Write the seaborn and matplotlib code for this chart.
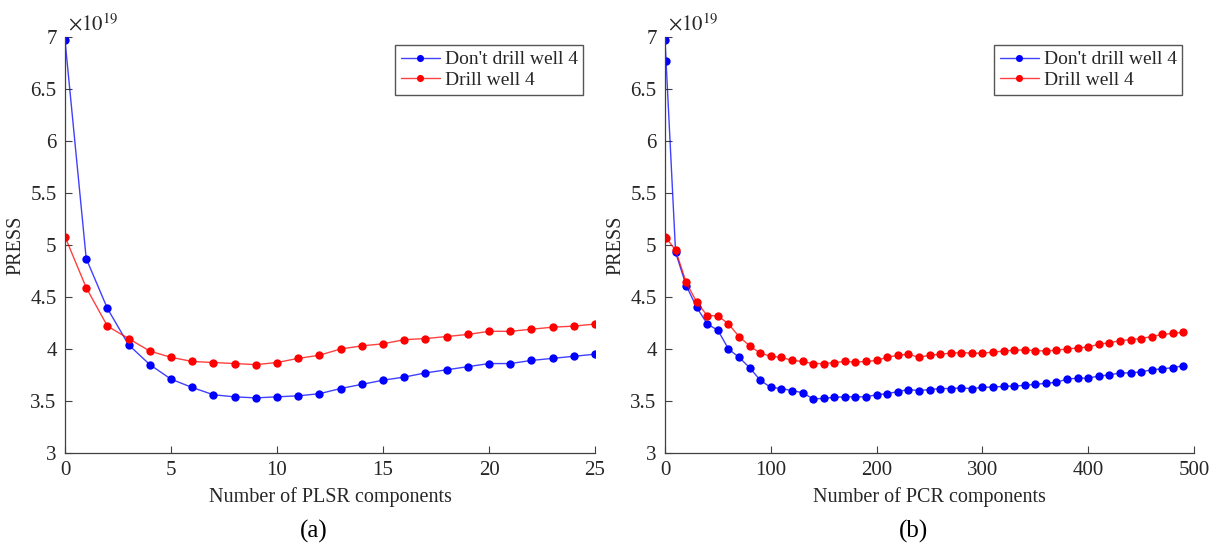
import matplotlib
matplotlib.use("Agg")
import matplotlib.pyplot as plt
from matplotlib.ticker import FuncFormatter
import matplotlib.colors as mcolors
import numpy as np
import pandas as pd
import seaborn as sns

# PRESS values are given in units of 1e19
SERIES = ["Don't drill well 4", "Drill well 4"]

plsr_components = list(range(26))
plsr_no_drill = [6.97, 4.87, 4.39, 4.04, 3.85, 3.71, 3.63, 3.56, 3.54, 3.53,
                 3.54, 3.55, 3.57, 3.62, 3.66, 3.70, 3.73, 3.77, 3.80, 3.83,
                 3.86, 3.86, 3.89, 3.91, 3.93, 3.95]
plsr_drill = [5.08, 4.59, 4.22, 4.10, 3.98, 3.92, 3.88, 3.87, 3.86, 3.85,
              3.87, 3.91, 3.94, 4.00, 4.03, 4.05, 4.09, 4.10, 4.12, 4.14,
              4.17, 4.17, 4.19, 4.21, 4.22, 4.24]

pcr_components = [0, 1] + list(range(10, 500, 10))
pcr_no_drill = [6.97, 6.77,
                4.93, 4.61, 4.40, 4.24, 4.18, 4.00, 3.92, 3.82, 3.70, 3.63,
                3.62, 3.60, 3.58, 3.52, 3.525, 3.536, 3.54, 3.54, 3.54, 3.56,
                3.57, 3.59, 3.61, 3.60, 3.61, 3.62, 3.62, 3.625, 3.62, 3.63,
                3.635, 3.64, 3.645, 3.65, 3.66, 3.67, 3.68, 3.71, 3.72, 3.72,
                3.74, 3.75, 3.77, 3.77, 3.78, 3.80, 3.81, 3.82, 3.84]
pcr_drill = [5.08, 5.07,
             4.95, 4.64, 4.45, 4.32, 4.32, 4.24, 4.12, 4.03, 3.96, 3.93,
             3.92, 3.89, 3.88, 3.86, 3.86, 3.87, 3.88, 3.875, 3.88, 3.89,
             3.92, 3.94, 3.95, 3.92, 3.94, 3.95, 3.96, 3.965, 3.96, 3.96,
             3.97, 3.98, 3.99, 3.99, 3.985, 3.98, 3.99, 4.00, 4.01, 4.02,
             4.045, 4.06, 4.08, 4.09, 4.10, 4.12, 4.14, 4.15, 4.16]

plsr_xticks = [0, 5, 10, 15, 20, 25]
pcr_xticks = [0, 100, 200, 300, 400, 500]
yticks = [3, 3.5, 4, 4.5, 5, 5.5, 6, 6.5, 7]

sns.set_theme(style="white")
plt.rcParams["font.family"] = ["Liberation Serif", "DejaVu Serif"]
plt.rcParams["mathtext.fontset"] = "stix"

TEXT = "#262626"
AXIS = "#404040"
palette = {SERIES[0]: "#0000ff", SERIES[1]: "#ff0000"}


def long_frame(x, a, b):
    return pd.DataFrame({
        "components": list(x) + list(x),
        "press": list(a) + list(b),
        "scenario": [SERIES[0]] * len(x) + [SERIES[1]] * len(x),
    })


fig = plt.figure(figsize=(12.24, 5.54), dpi=100)
ax_l = fig.add_axes([65 / 1224, 1 - 453 / 554, 530 / 1224, 416 / 554])
ax_r = fig.add_axes([665 / 1224, 1 - 453 / 554, 529 / 1224, 416 / 554])

panels = [
    (ax_l, long_frame(plsr_components, plsr_no_drill, plsr_drill),
     (0, 25), plsr_xticks, "Number of PLSR components", "(a)"),
    (ax_r, long_frame(pcr_components, pcr_no_drill, pcr_drill),
     (0, 500), pcr_xticks, "Number of PCR components", "(b)"),
]


def soften(line):
    # thin translucent connecting line, solid dots
    c = mcolors.to_rgb(line.get_color())
    line.set_color((*c, 0.75))
    line.set_markerfacecolor(c)
    line.set_markeredgecolor(c)


for ax, df, xlim, xticks, xlabel, tag in panels:
    sns.lineplot(data=df, x="components", y="press", hue="scenario",
                 palette=palette, estimator=None, sort=False,
                 marker="o", markersize=6, markeredgewidth=0,
                 linewidth=1.0, ax=ax)
    for line in ax.lines:
        soften(line)
    ax.set_xlim(*xlim)
    ax.set_ylim(3, 7)
    ax.set_xticks(xticks)
    ax.set_yticks(yticks)
    ax.yaxis.set_major_formatter(FuncFormatter(lambda v, p: f"{v:g}"))
    ax.xaxis.set_major_formatter(FuncFormatter(lambda v, p: f"{v:g}"))
    for side in ("top", "right"):
        ax.spines[side].set_visible(False)
    for side in ("left", "bottom"):
        ax.spines[side].set_color(AXIS)
        ax.spines[side].set_linewidth(0.9)
    ax.tick_params(direction="in", length=5, width=0.8, colors=AXIS,
                   labelcolor=TEXT, labelsize=15, pad=6,
                   left=True, bottom=True)
    ax.set_xlabel(xlabel, fontsize=14.5, color=TEXT, labelpad=5)
    ax.set_ylabel("PRESS", fontsize=14.5, color=TEXT)
    ax.yaxis.set_label_coords(-40 / 530, 0.5)
    ax.text(0.005, 1.003, r"$\times10^{19}$", transform=ax.transAxes,
            ha="left", va="bottom", fontsize=15, color=TEXT)
    leg = ax.legend(loc="upper right", bbox_to_anchor=(0.978, 0.981),
                    fontsize=14, frameon=True, fancybox=False, framealpha=1,
                    edgecolor="#555555", handlelength=2.0, handletextpad=0.25,
                    borderpad=0.3, labelspacing=0.15, borderaxespad=0,
                    markerscale=0.85)
    leg.get_frame().set_linewidth(1.0)
    for t in leg.get_texts():
        t.set_color(TEXT)
    pos = ax.get_position()
    fig.text((pos.x0 + pos.x1) / 2 - 0.013, 0.04,
             tag, ha="center", va="center", fontsize=18, color="black")

fig.savefig("out.png", dpi=100)
